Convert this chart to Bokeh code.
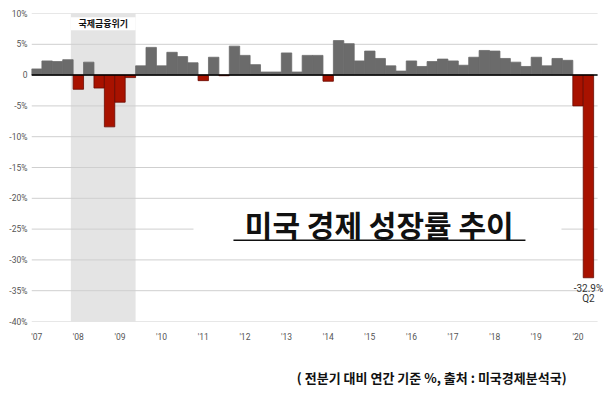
from bokeh.plotting import figure
from bokeh.models import BoxAnnotation, Label, FixedTicker, ColumnDataSource, Title
from bokeh.embed import file_html
from bokeh.resources import INLINE

# ---- data ----
years = ["'07", "'08", "'09", "'10", "'11", "'12", "'13", "'14", "'15", "'16", "'17", "'18", "'19", "'20"]
growth = [1.0, 2.3, 2.2, 2.5,
          -2.3, 2.1, -2.1, -8.4,
          -4.4, -0.4, 1.5, 4.5,
          1.5, 3.7, 3.0, 2.0,
          -0.9, 2.9, -0.1, 4.7,
          3.2, 1.7, 0.5, 0.5,
          3.6, 0.5, 3.2, 3.2,
          -1.0, 5.6, 5.1, 2.3,
          3.9, 2.7, 1.5, 0.65,
          2.3, 1.4, 2.2, 2.6,
          2.3, 1.6, 2.9, 4.0,
          3.9, 2.7, 2.1, 1.4,
          2.9, 1.5, 2.7, 2.4,
          -5.0, -32.9]
y_ticks = [10, 5, 0, -5, -10, -15, -20, -25, -30, -35, -40]
y_labels = ["10%", "5%", "0", "-5%", "-10%", "-15%", "-20%", "-25%", "-30%", "-35%", "-40%"]
crisis_start, crisis_end = 3.28, 9.5   # Dec 2007 .. Jun 2009 in quarter index
crisis_label = "국제금융위기"
title_text = "미국 경제 성장률 추이"
source_text = "( 전분기 대비 연간 기준 %,  출처 : 미국경제분석국)"
last_label = "Q2"

GRAY = "#6b6b6b"
RED = "#a81200"
RED_LINE = "#6a0a00"
X0, X1 = -0.5, 53.88          # extent of the gridded area
XR = (-0.5, 55.12)            # frame extends right for the end annotation

idx = list(range(len(growth)))
colors = [RED if v < 0 else GRAY for v in growth]
lines = [RED_LINE if v < 0 else GRAY for v in growth]
src = ColumnDataSource(dict(x=idx, top=growth, bottom=[0] * len(growth), color=colors, line=lines))

p = figure(frame_width=579, frame_height=308, x_range=XR, y_range=(-40, 10),
           min_border_left=31, min_border_right=0, min_border_top=13, min_border_bottom=0,
           output_backend="svg", toolbar_location=None)
p.outline_line_color = None
p.background_fill_color = "white"
p.border_fill_color = "white"
p.xgrid.visible = False
p.ygrid.visible = False

# crisis shading
p.add_layout(BoxAnnotation(left=crisis_start, right=crisis_end, fill_color="#e4e4e4",
                           fill_alpha=1, line_color=None, level="image"))

# horizontal gridlines at the y ticks
p.segment(x0=[X0] * len(y_ticks), x1=[X1] * len(y_ticks), y0=y_ticks, y1=y_ticks,
          line_color="#cfcfcf", line_width=1)

p.vbar(x="x", top="top", bottom="bottom", width=1.0, source=src,
       fill_color="color", line_color="line", line_width=0.8)

# zero line
p.segment(x0=[X0], x1=[X1], y0=[0], y1=[0], line_color="black", line_width=1.5)

# axes
p.yaxis.ticker = FixedTicker(ticks=y_ticks)
p.yaxis.major_label_overrides = {t: l for t, l in zip(y_ticks, y_labels)}
p.yaxis.axis_line_color = None
p.yaxis.major_tick_line_color = None
p.yaxis.minor_tick_line_color = None
p.yaxis.major_tick_out = 0
p.yaxis.major_label_standoff = 4
p.yaxis.major_label_text_font = "Roboto"
p.yaxis.major_label_text_font_size = "8.5px"
p.yaxis.major_label_text_color = "#555555"

x_ticks = [4 * i for i in range(len(years))]
p.xaxis.ticker = FixedTicker(ticks=x_ticks)
p.xaxis.major_label_overrides = {t: l for t, l in zip(x_ticks, years)}
p.xaxis.axis_line_color = None
p.xaxis.major_tick_line_color = None
p.xaxis.minor_tick_line_color = None
p.xaxis.major_tick_out = 0
p.xaxis.major_tick_in = 0
p.xaxis.major_label_standoff = 10
p.xaxis.major_label_text_font = "Roboto"
p.xaxis.major_label_text_font_size = "8.5px"
p.xaxis.major_label_text_color = "#555555"

# crisis label
p.add_layout(BoxAnnotation(left=crisis_start, right=crisis_end, bottom=7.3, top=9.4,
                           fill_color="white", fill_alpha=1, line_color=None))
p.add_layout(Label(x=(crisis_start + crisis_end) / 2, y=8.35, text=crisis_label,
                   text_align="center", text_baseline="middle",
                   text_font="Noto Sans CJK KR", text_font_size="9px",
                   text_font_style="bold", text_color="#111111"))

# title box
p.add_layout(BoxAnnotation(left=15.06, right=50.41, bottom=-28.6, top=-21.1,
                           fill_color="white", fill_alpha=1, line_color=None))
p.add_layout(Label(x=32.9, y=-24.2, text=title_text, text_align="center", text_baseline="middle",
                   text_font="Noto Sans CJK KR", text_font_size="30px",
                   text_font_style="bold", text_color="#111111"))
p.add_layout(BoxAnnotation(left=18.9, right=46.95, bottom=-26.95, top=-26.7,
                           fill_color="#111111", fill_alpha=1, line_color=None))

# last value annotation
last_i = len(growth) - 1
p.add_layout(Label(x=last_i, y=-34.6, text=f"{growth[-1]}%", text_align="center",
                   text_baseline="middle", text_font="Roboto", text_font_size="10px",
                   text_color="#333333"))
p.add_layout(Label(x=last_i, y=-36.3, text=last_label, text_align="center",
                   text_baseline="middle", text_font="Roboto", text_font_size="10px",
                   text_color="#333333"))

# source note below the axis
p.add_layout(Title(text=source_text, align="right", offset=41, standoff=42,
                   text_font="Noto Sans CJK KR", text_font_size="13px",
                   text_font_style="bold", text_color="#111111"), "below")

open("out.html", "w").write(file_html(p, INLINE))
